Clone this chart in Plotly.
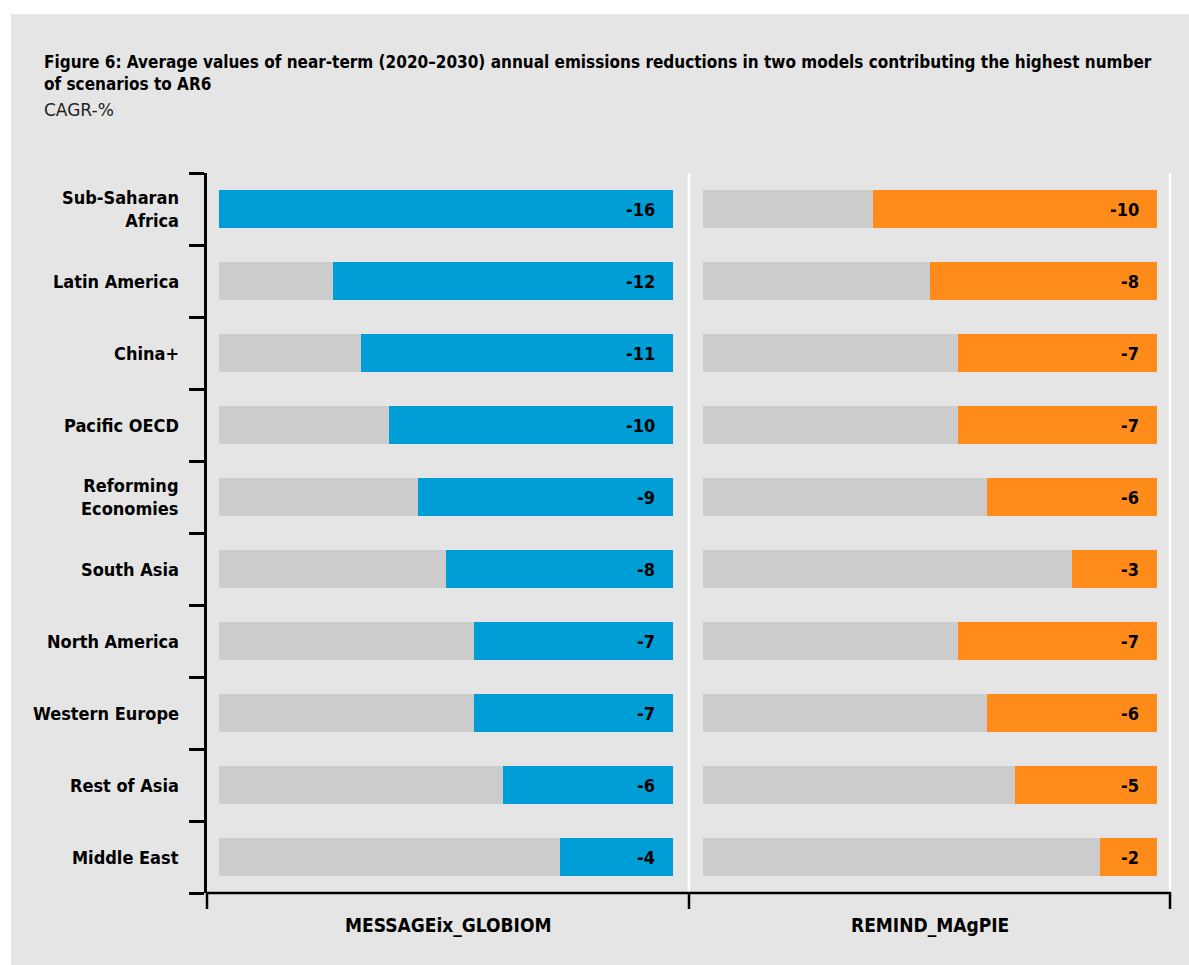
import plotly.graph_objects as go

W, H = 1189, 965

# ---------------- data ----------------
regions = ["Sub-Saharan<br>Africa", "Latin America", "China+", "Pacific OECD",
           "Reforming<br>Economies", "South Asia", "North America",
           "Western Europe", "Rest of Asia", "Middle East"]
message_vals = [-16, -12, -11, -10, -9, -8, -7, -7, -6, -4]
remind_vals = [-10, -8, -7, -7, -6, -3, -7, -6, -5, -2]
background_vals = [-16] * 10
models = ["MESSAGEix_GLOBIOM", "REMIND_MAgPIE"]
title_text = ("Figure 6: Average values of near-term (2020\u20132030) annual emissions reductions "
              "in two models contributing the highest number<br>of scenarios to AR6")
subtitle_text = "CAGR-%"

# ---------------- style ----------------
NARROW = "DejaVu Sans Condensed, Liberation Sans Narrow, sans-serif"
BLUE = "#009ed6"
ORANGE = "#ff8c1a"
GREY_BAR = "#cccccc"
BG = "#e5e5e5"


def px(x):
    return x / W


def py(y):
    return 1 - y / H


idx = list(range(len(regions)))
bar_w = 0.53

fig = go.Figure()
for xa, vals, col in [("x", message_vals, BLUE), ("x2", remind_vals, ORANGE)]:
    fig.add_trace(go.Bar(y=idx, x=background_vals, orientation="h", xaxis=xa, yaxis="y",
                         marker=dict(color=GREY_BAR, line=dict(width=0)), width=bar_w,
                         hoverinfo="skip", showlegend=False))
    fig.add_trace(go.Bar(y=idx, x=vals, orientation="h", xaxis=xa, yaxis="y",
                         marker=dict(color=col, line=dict(width=0)), width=bar_w,
                         showlegend=False))

annotations = []
for xa, vals in [("x", message_vals), ("x2", remind_vals)]:
    for i, v in zip(idx, vals):
        annotations.append(dict(x=0, y=i, xref=xa, yref="y", text=f"<b>{v}</b>",
                                showarrow=False, xanchor="right", yanchor="middle",
                                xshift=-16, font=dict(family=NARROW, size=18, color="black")))
for i, r in zip(idx, regions):
    annotations.append(dict(x=px(181), y=i, xref="paper", yref="y", text=f"<b>{r}</b>",
                            showarrow=False, xanchor="right", yanchor="middle", align="right",
                            font=dict(family=NARROW, size=18, color="black")))
for m, cx in zip(models, [448, 930]):
    annotations.append(dict(x=px(cx), y=py(925), xref="paper", yref="paper", text=f"<b>{m}</b>",
                            showarrow=False, xanchor="center", yanchor="middle",
                            font=dict(family=NARROW, size=19, color="black")))
annotations.append(dict(x=px(42), y=py(50), xref="paper", yref="paper", text=f"<b>{title_text}</b>",
                        showarrow=False, xanchor="left", yanchor="top", align="left",
                        font=dict(family=NARROW, size=17, color="black")))
annotations.append(dict(x=px(42), y=py(110), xref="paper", yref="paper", text=subtitle_text,
                        showarrow=False, xanchor="left", yanchor="middle", align="left",
                        font=dict(family="DejaVu Sans, sans-serif", size=17, color="#222222")))

shapes = [
    dict(type="rect", xref="paper", yref="paper", x0=px(11), x1=1, y0=0, y1=py(14),
         fillcolor=BG, line=dict(width=0), layer="below"),
    # white panel separators
    dict(type="line", xref="paper", yref="paper", x0=px(689), x1=px(689), y0=py(173), y1=py(893),
         line=dict(color="white", width=2.5), layer="below"),
    dict(type="line", xref="paper", yref="paper", x0=px(1170), x1=px(1170), y0=py(173), y1=py(893),
         line=dict(color="white", width=2.5), layer="below"),
    # x axis line and ticks
    dict(type="line", xref="paper", yref="paper", x0=px(207), x1=px(1171), y0=py(893), y1=py(893),
         line=dict(color="black", width=2.5)),
]
for tx in [207, 689, 1170]:
    shapes.append(dict(type="line", xref="paper", yref="paper", x0=px(tx), x1=px(tx),
                       y0=py(892), y1=py(909), line=dict(color="black", width=2.5)))

fig.update_layout(
    width=W, height=H, autosize=False,
    margin=dict(l=0, r=0, t=0, b=0),
    paper_bgcolor="white", plot_bgcolor="rgba(0,0,0,0)",
    barmode="overlay", bargap=0,
    xaxis=dict(domain=[px(207), px(689)], range=[-16.423, 0.564], visible=False, anchor="y"),
    xaxis2=dict(domain=[px(689), px(1170)], range=[-16.493, 0.458], visible=False, anchor="y"),
    yaxis=dict(domain=[py(893), py(173)], range=[9.5, -0.5], anchor="x",
               tickmode="array", tickvals=[i - 0.5 for i in range(11)],
               ticktext=[""] * 11, showticklabels=False,
               ticks="outside", ticklen=15, tickwidth=2.5, tickcolor="black",
               showline=True, linecolor="black", linewidth=2.5,
               showgrid=False, zeroline=False),
    annotations=annotations,
    shapes=shapes,
)

fig.write_html("out.html", config={"displayModeBar": False},
               post_script="document.body.style.margin='0';document.body.style.overflow='hidden';")
